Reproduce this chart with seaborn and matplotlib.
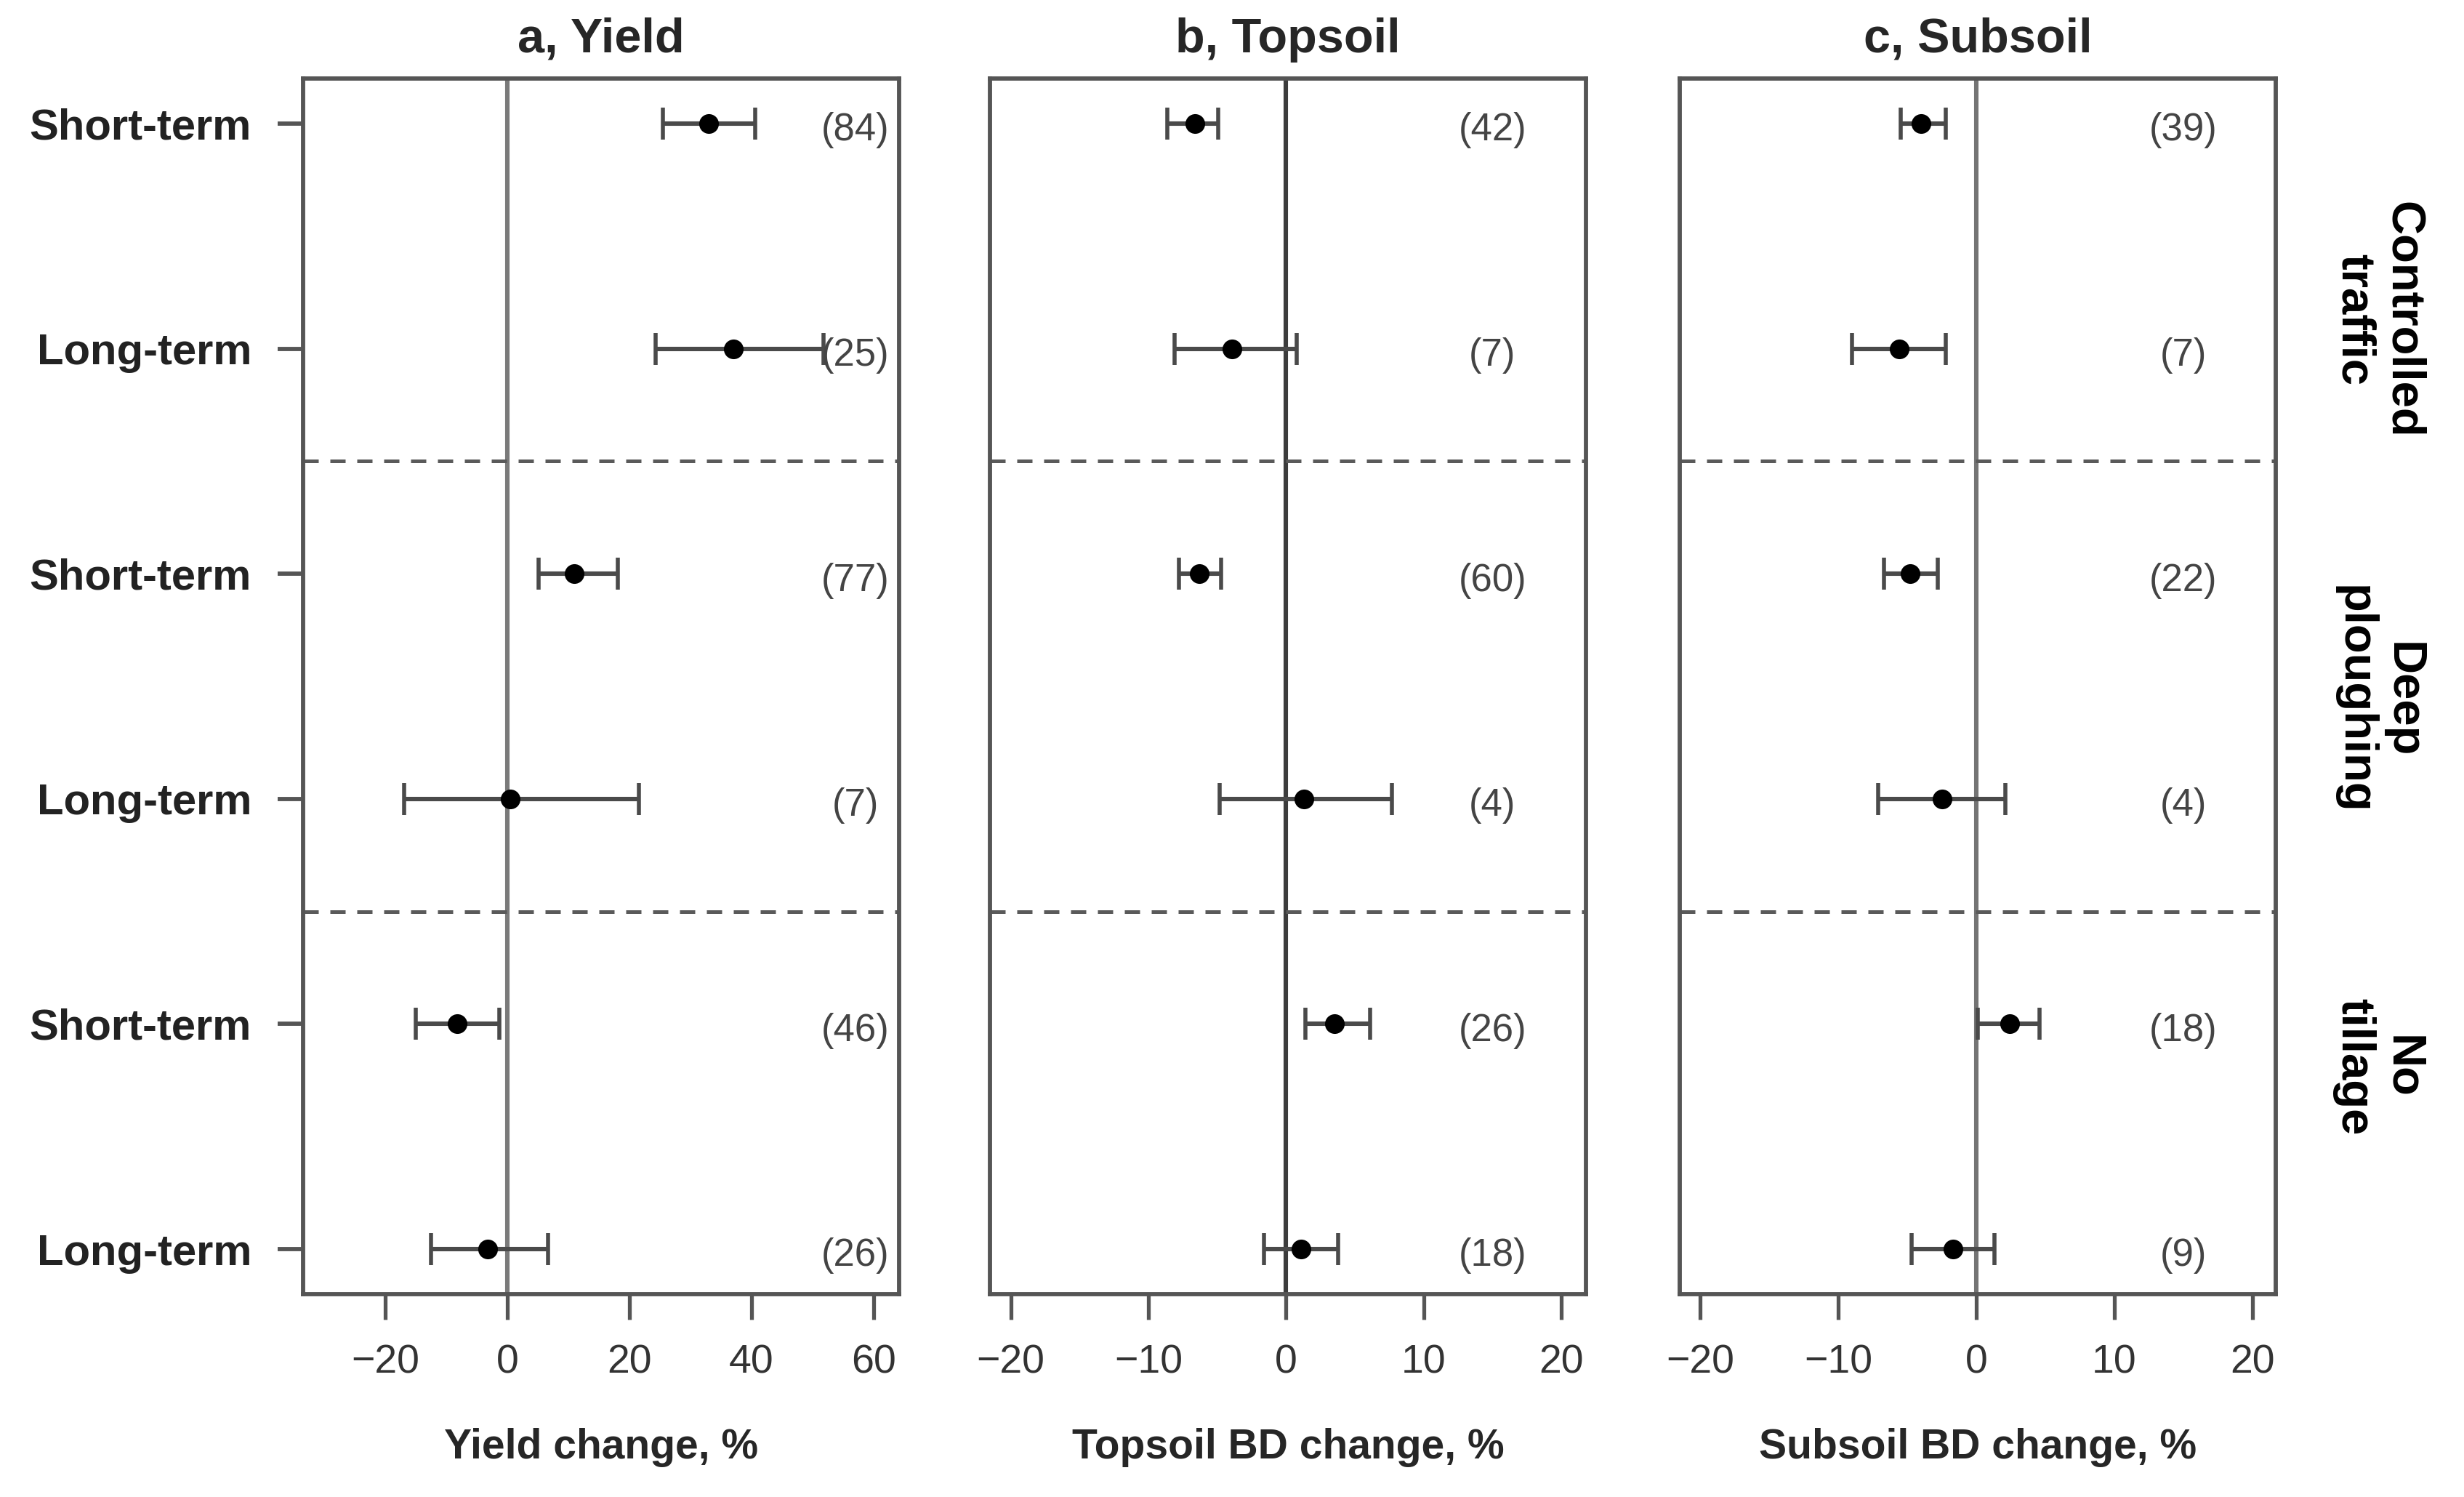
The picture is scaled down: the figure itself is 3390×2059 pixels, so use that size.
import numpy as np
import pandas as pd
import seaborn as sns
import matplotlib.pyplot as plt

# values (mean change and 95% CI, number of studies)
row_labels = ["Short-term", "Long-term", "Short-term", "Long-term", "Short-term", "Long-term"]
practices = ["Controlled\ntraffic", "Deep\nploughing", "No\ntillage"]

yield_mean = [33.0, 37.0, 11.0, 0.5, -8.2, -3.2]
yield_lo = [25.5, 24.3, 5.1, -16.9, -15.0, -12.5]
yield_hi = [40.6, 51.8, 18.1, 21.6, -1.3, 6.7]
yield_n = [84, 25, 77, 7, 46, 26]

top_mean = [-6.6, -3.9, -6.3, 1.3, 3.5, 1.1]
top_lo = [-8.6, -8.1, -7.8, -4.8, 1.4, -1.6]
top_hi = [-4.9, 0.8, -4.7, 7.7, 6.1, 3.8]
top_n = [42, 7, 60, 4, 26, 18]

sub_mean = [-4.0, -5.6, -4.8, -2.5, 2.4, -1.7]
sub_lo = [-5.5, -9.0, -6.7, -7.1, 0.1, -4.7]
sub_hi = [-2.2, -2.2, -2.8, 2.1, 4.6, 1.3]
sub_n = [39, 7, 22, 4, 18, 9]

titles = ["a, Yield", "b, Topsoil", "c, Subsoil"]
xlabels = ["Yield change, %", "Topsoil BD change, %", "Subsoil BD change, %"]
xticks = [[-20, 0, 20, 40, 60], [-20, -10, 0, 10, 20], [-20, -10, 0, 10, 20]]

sns.set_theme(style="white")
plt.rcParams["font.family"] = ["Liberation Sans", "DejaVu Sans"]

fig = plt.figure(figsize=(33.9, 20.59), dpi=100)

panels = [
    (yield_mean, yield_lo, yield_hi, yield_n),
    (top_mean, top_lo, top_hi, top_n),
    (sub_mean, sub_lo, sub_hi, sub_n),
]
lefts = [0.1230, 0.4018, 0.6817]
xlims = [(-33.5, 64.2), (-21.5, 21.8), (-21.5, 21.7)]
nlab_x = [57, 15, 15]
zero_cols = ["#7a7a7a", "#3c3c3c", "#747474"]

row = np.arange(1, 7)
axes = []
for i, (mean, lo, hi, n) in enumerate(panels):
    ax = fig.add_axes([lefts[i], 0.1355, 0.2419, 0.812])
    axes.append(ax)
    df = pd.DataFrame({"row": row, "mean": mean, "lo": lo, "hi": hi, "n": n})

    ax.axvline(0, color=zero_cols[i], lw=4.4, zorder=1)
    for yy in [2.5, 4.5]:
        ax.axhline(yy, color="#5a5a5a", lw=3.6, ls=(0, (4.2, 3.2)), zorder=1)

    ax.errorbar(df["mean"], df["row"],
                xerr=[df["mean"] - df["lo"], df["hi"] - df["mean"]],
                fmt="none", ecolor="#4a4a4a", elinewidth=4.4,
                capsize=16, capthick=4.0, zorder=2)
    sns.scatterplot(data=df, x="mean", y="row", ax=ax, color="black",
                    s=380, edgecolor="black", linewidth=0, zorder=3)

    for yy, nn in zip(df["row"], df["n"]):
        ax.text(nlab_x[i], yy + 0.03, f"({nn})", ha="center", va="center",
                fontsize=38, color="#444444")

    ax.set_xlim(*xlims[i])
    ax.set_ylim(6.2, 0.8)
    ax.set_xticks(xticks[i])
    ax.set_xlabel(xlabels[i], fontsize=41, fontweight="bold", labelpad=46)
    ax.set_ylabel("")
    ax.set_title(titles[i], fontsize=48, fontweight="bold", pad=26)

    for sp in ax.spines.values():
        sp.set_color("#555555")
        sp.set_linewidth(4.2)

    ax.tick_params(axis="x", bottom=True, direction="out", length=25,
                   width=3.8, color="#555555", pad=24, labelsize=40,
                   labelcolor="#333333")
    if i == 0:
        ax.set_yticks(row)
        ax.set_yticklabels(row_labels, fontsize=43, fontweight="bold",
                           color="#222222")
        ax.tick_params(axis="y", left=True, direction="out", length=25,
                       width=4.2, color="#555555", pad=26)
    else:
        ax.set_yticks([])

# practice labels on the right side
strip_y = [1.87, 3.56, 5.19]
for yy, lab in zip(strip_y, practices):
    axes[2].text(1.172, yy, lab, transform=axes[2].get_yaxis_transform(),
                 rotation=270, ha="center", va="center", fontsize=47,
                 fontweight="bold", color="black", linespacing=1.15)

fig.savefig("out.png", dpi=100, facecolor="white")
